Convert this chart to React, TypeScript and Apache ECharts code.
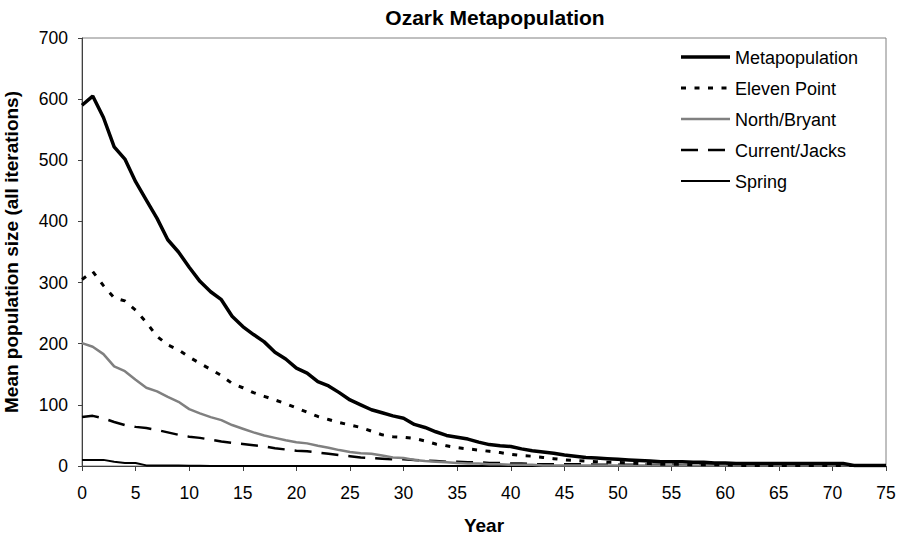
import React, { useEffect, useRef } from "react";
import * as echarts from "echarts";

const years: number[] = Array.from({ length: 76 }, (_, i) => i);

const metapopulation = [
  590, 605, 570, 522, 502, 465, 435, 405, 370, 350, 325, 302, 285, 272, 245, 228, 215, 203, 186, 175,
  160, 152, 138, 131, 120, 108, 100, 92, 87, 82, 78, 68, 63, 56, 50, 47, 44, 39, 35, 33,
  32, 28, 25, 23, 21, 18, 16, 14, 13, 12, 11, 10, 9, 8, 7, 7, 7, 6, 6, 5,
  5, 4, 4, 4, 4, 4, 4, 4, 4, 4, 4, 4, 1, 1, 1, 1,
];
const elevenPoint = [
  305, 318, 295, 275, 270, 255, 235, 212, 198, 190, 178, 168, 158, 148, 135, 128, 120, 114, 108, 102,
  95, 88, 81, 76, 71, 67, 63, 57, 51, 48, 47, 45, 41, 36, 33, 30, 28, 26, 24, 22,
  19, 17, 16, 14, 12, 10, 9, 8, 7, 6, 6, 5, 4, 4, 3, 3, 3, 2, 2, 2,
  2, 1, 1, 1, 1, 1, 1, 1, 1, 1, 1, 1, 1, 1, 1, 1,
];
const northBryant = [
  201, 195, 183, 163, 155, 141, 128, 122, 113, 105, 93, 86, 80, 75, 67, 61, 55, 50, 46, 42,
  39, 37, 33, 30, 26, 23, 21, 20, 17, 14, 13, 10, 8, 7, 6, 5, 4, 4, 3, 3,
  2, 2, 2, 1, 1, 1, 1, 1, 1, 1, 1, 1, 1, 1, 1, 1, 1, 1, 1, 1,
  1, 1, 1, 1, 1, 1, 1, 1, 1, 1, 1, 1, 1, 1, 1, 1,
];
const currentJacks = [
  80, 82, 78, 72, 67, 64, 62, 59, 55, 51, 48, 46, 43, 40, 38, 36, 34, 32, 29, 27,
  25, 24, 22, 20, 18, 16, 14, 13, 12, 11, 11, 10, 9, 8, 7, 7, 6, 6, 5, 5,
  4, 4, 3, 3, 3, 3, 3, 3, 2, 2, 2, 2, 2, 2, 2, 2, 1, 1, 1, 1,
  1, 1, 1, 1, 1, 1, 1, 1, 1, 1, 1, 1, 1, 1, 1, 1,
];
const spring = [
  10, 10, 10, 7, 5, 5, 1, 1, 1, 1, 0.5, 0.5, 0, 0, 0, 0, 0, 0, 0, 0,
  0, 0, 0, 0, 0, 0, 0, 0, 0, 0, 0, 0, 0, 0, 0, 0, 0, 0, 0, 0,
  0, 0, 0, 0, 0, 0, 0, 0, 0, 0, 0, 0, 0, 0, 0, 0, 0, 0, 0, 0,
  0, 0, 0, 0, 0, 0, 0, 0, 0, 0, 0, 0, 0, 0, 0, 0,
];

const seriesNames = ["Metapopulation", "Eleven Point", "North/Bryant", "Current/Jacks", "Spring"];
const seriesData = [metapopulation, elevenPoint, northBryant, currentJacks, spring];

const FONT = "'Liberation Sans', Arial, sans-serif";

const styles: { color: string; width: number; dash: number[] | null }[] = [
  { color: "#000000", width: 3.5, dash: null },
  { color: "#000000", width: 3, dash: [5, 8.5] },
  { color: "#808080", width: 2.5, dash: null },
  { color: "#000000", width: 2.5, dash: [17, 10] },
  { color: "#000000", width: 2, dash: null },
];

const pairs = (vals: number[]) => years.map((y, i) => [y, vals[i]]);

export default function App() {
  const ref = useRef<HTMLDivElement>(null);
  useEffect(() => {
    if (!ref.current) return;
    const chart = echarts.init(ref.current, undefined, { renderer: "svg" });

    const series = seriesNames
      .map((name, i) => ({
        name,
        type: "line",
        data: pairs(seriesData[i]),
        symbol: "none",
        z: 10 - i,
        lineStyle: {
          color: styles[i].color,
          width: styles[i].width,
          type: styles[i].dash ? styles[i].dash : "solid",
        },
        itemStyle: { color: styles[i].color },
      }))
      .reverse();

    const legendX0 = 681;
    const legendX1 = 730;
    const legendTop = 57;
    const legendStep = 31;
    const legendGraphics: any[] = [];
    seriesNames.forEach((name, i) => {
      const y = legendTop + i * legendStep;
      legendGraphics.push({
        type: "line",
        shape: { x1: legendX0, y1: y, x2: legendX1, y2: y },
        style: {
          stroke: styles[i].color,
          lineWidth: styles[i].width,
          lineDash: styles[i].dash || undefined,
        },
        z: 100,
      });
      legendGraphics.push({
        type: "text",
        x: legendX1 + 5,
        y: y + 1,
        style: {
          text: name,
          font: `18px ${FONT}`,
          fill: "#000",
          verticalAlign: "middle",
          align: "left",
        },
        z: 100,
      });
    });

    chart.setOption({
      animation: false,
      backgroundColor: "#ffffff",
      textStyle: { fontFamily: FONT },
      title: {
        text: "Ozark Metapopulation",
        left: 490,
        textAlign: "center",
        top: 2,
        textStyle: { fontFamily: FONT, fontSize: 21, fontWeight: "bold", color: "#000" },
      },
      grid: {
        left: 82,
        right: 14,
        top: 38,
        bottom: 74,
        containLabel: false,
        outerBoundsMode: "none",
        show: true,
        borderColor: "#808080",
        borderWidth: 1,
        backgroundColor: "transparent",
      },
      graphic: legendGraphics,
      xAxis: {
        type: "value",
        min: 0,
        max: 75,
        interval: 5,
        name: "Year",
        nameLocation: "middle",
        nameGap: 50,
        nameTextStyle: { fontFamily: FONT, fontSize: 19, fontWeight: "bold", color: "#000" },
        axisLine: { show: true, lineStyle: { color: "#404040", width: 1 } },
        axisTick: { show: true, length: 5, lineStyle: { color: "#404040" } },
        axisLabel: { fontFamily: FONT, fontSize: 17.5, color: "#000", margin: 18 },
        splitLine: { show: false },
      },
      yAxis: {
        type: "value",
        min: 0,
        max: 700,
        interval: 100,
        name: "Mean population size (all iterations)",
        nameLocation: "middle",
        nameGap: 61,
        nameTextStyle: { fontFamily: FONT, fontSize: 19, fontWeight: "bold", color: "#000" },
        axisLine: { show: true, lineStyle: { color: "#404040", width: 1 } },
        axisTick: { show: true, length: 4, lineStyle: { color: "#404040" } },
        axisLabel: { fontFamily: FONT, fontSize: 17.5, color: "#000", margin: 14 },
        splitLine: { show: false },
      },
      series,
    });
    return () => chart.dispose();
  }, []);
  return <div ref={ref} style={{ width: 900, height: 540, position: "absolute", left: 0, top: 0 }} />;
}
